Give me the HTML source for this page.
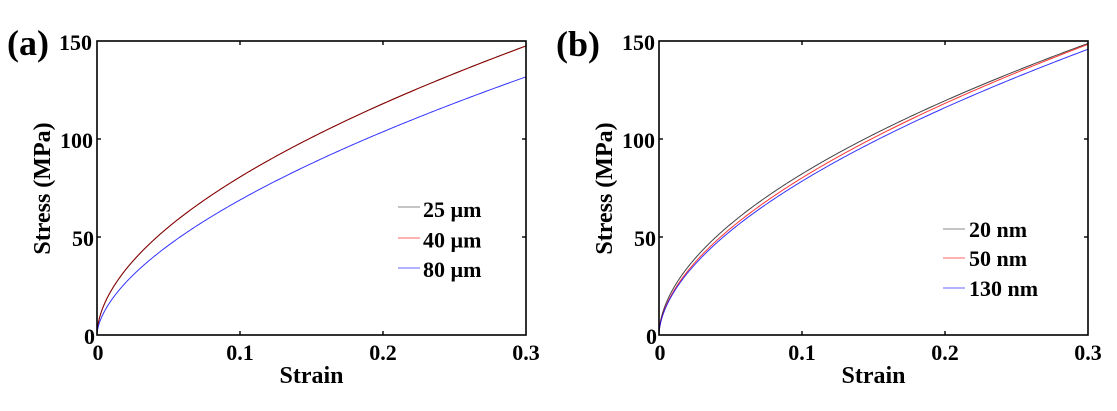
<!DOCTYPE html>
<html>
<head>
<meta charset="utf-8">
<style>
html,body{margin:0;padding:0;background:#fff;}
svg{display:block;}
text{font-family:"Liberation Serif","Times New Roman",serif;font-weight:bold;fill:#000;}
.tk{font-size:22px;}
.lab{font-size:24px;}
.pan{font-size:36px;}
.lg{font-size:22px;}
</style>
</head>
<body>
<svg id="s" width="1117" height="411" viewBox="0 0 1117 411" xmlns="http://www.w3.org/2000/svg">
  <rect width="1117" height="411" fill="#fff"/>

  <!-- Panel labels -->
  <text class="pan" x="7" y="55">(a)</text>
  <text class="pan" x="556" y="56">(b)</text>

  <!-- ===== Panel (a) ===== -->
  <g id="curvesA"></g>
  <rect x="97" y="41" width="429" height="294" fill="none" stroke="#000" stroke-width="1.6"/>
  <g stroke="#000" stroke-width="1.4">
    <line x1="97" y1="237" x2="101" y2="237"/><line x1="97" y1="139" x2="101" y2="139"/>
    <line x1="526" y1="237" x2="522" y2="237"/><line x1="526" y1="139" x2="522" y2="139"/>
    <line x1="240" y1="335" x2="240" y2="331"/><line x1="383" y1="335" x2="383" y2="331"/>
    <line x1="240" y1="41" x2="240" y2="45"/><line x1="383" y1="41" x2="383" y2="45"/>
  </g>
  <g text-anchor="end">
    <text class="tk" x="95" y="344">0</text>
    <text class="tk" x="94" y="246">50</text>
    <text class="tk" x="93" y="148">100</text>
    <text class="tk" x="92" y="50">150</text>
  </g>
  <g text-anchor="middle">
    <text class="tk" x="98" y="360">0</text>
    <text class="tk" x="240" y="360">0.1</text>
    <text class="tk" x="383" y="360">0.2</text>
    <text class="tk" x="526" y="360">0.3</text>
  </g>
  <text class="lab" x="311.5" y="383" text-anchor="middle">Strain</text>
  <text class="lab" transform="translate(50,188.5) rotate(-90)" text-anchor="middle">Stress (MPa)</text>
  <!-- legend (a) -->
  <line x1="398" y1="207" x2="420" y2="207" stroke="#888888" stroke-width="1"/>
  <line x1="398" y1="238" x2="420" y2="238" stroke="#ff6666" stroke-width="1"/>
  <line x1="398" y1="268" x2="420" y2="268" stroke="#6666ff" stroke-width="1"/>
  <text class="lg" x="423" y="217">25 µm</text>
  <text class="lg" x="423" y="247.5">40 µm</text>
  <text class="lg" x="423" y="277">80 µm</text>

  <!-- ===== Panel (b) ===== -->
  <g id="curvesB"></g>
  <rect x="659" y="41" width="429" height="294" fill="none" stroke="#000" stroke-width="1.6"/>
  <g stroke="#000" stroke-width="1.4">
    <line x1="659" y1="237" x2="663" y2="237"/><line x1="659" y1="139" x2="663" y2="139"/>
    <line x1="1088" y1="237" x2="1084" y2="237"/><line x1="1088" y1="139" x2="1084" y2="139"/>
    <line x1="802" y1="335" x2="802" y2="331"/><line x1="945" y1="335" x2="945" y2="331"/>
    <line x1="802" y1="41" x2="802" y2="45"/><line x1="945" y1="41" x2="945" y2="45"/>
  </g>
  <g text-anchor="end">
    <text class="tk" x="657" y="344">0</text>
    <text class="tk" x="656" y="246">50</text>
    <text class="tk" x="655" y="148">100</text>
    <text class="tk" x="655" y="50">150</text>
  </g>
  <g text-anchor="middle">
    <text class="tk" x="660" y="360">0</text>
    <text class="tk" x="802" y="360">0.1</text>
    <text class="tk" x="945" y="360">0.2</text>
    <text class="tk" x="1088" y="360">0.3</text>
  </g>
  <text class="lab" x="873.5" y="383" text-anchor="middle">Strain</text>
  <text class="lab" transform="translate(612,188.5) rotate(-90)" text-anchor="middle">Stress (MPa)</text>
  <!-- legend (b) -->
  <line x1="943" y1="229" x2="965" y2="229" stroke="#888888" stroke-width="1"/>
  <line x1="943" y1="258" x2="965" y2="258" stroke="#ff6666" stroke-width="1"/>
  <line x1="943" y1="288" x2="965" y2="288" stroke="#6666ff" stroke-width="1"/>
  <text class="lg" x="969" y="237">20 nm</text>
  <text class="lg" x="969" y="266">50 nm</text>
  <text class="lg" x="969" y="296">130 nm</text>
</svg>
<script>
(function(){
  var NS="http://www.w3.org/2000/svg";
  function path(x0,K,n,color,op,dy){
    var d="";
    var N=300;
    for(var i=0;i<=N;i++){
      var t=i/N;
      var e=0.3*Math.pow(t,2.2);
      var s=K*Math.pow(e,n);
      var x=x0+e*1430;
      var y=335-s*1.96+(dy||0);
      d+=(i?"L":"M")+x.toFixed(2)+","+y.toFixed(2);
    }
    var p=document.createElementNS(NS,"path");
    p.setAttribute("d",d);
    p.setAttribute("fill","none");
    p.setAttribute("stroke",color);
    p.setAttribute("stroke-width","1");
    if(op) p.setAttribute("stroke-opacity",op);
    return p;
  }
  var A=document.getElementById("curvesA");
  A.appendChild(path(97,286,0.55,"#000"));
  A.appendChild(path(97,285.5,0.55,"#e00",0.6,-0.3));
  A.appendChild(path(97,268,0.59,"#00f",0.8));
  var B=document.getElementById("curvesB");
  B.appendChild(path(659,285,0.54,"#222",0.85));
  B.appendChild(path(659,291,0.56,"#f00",0.8));
  B.appendChild(path(659,287.5,0.564,"#00f",0.8));
})();
</script>
</body>
</html>
